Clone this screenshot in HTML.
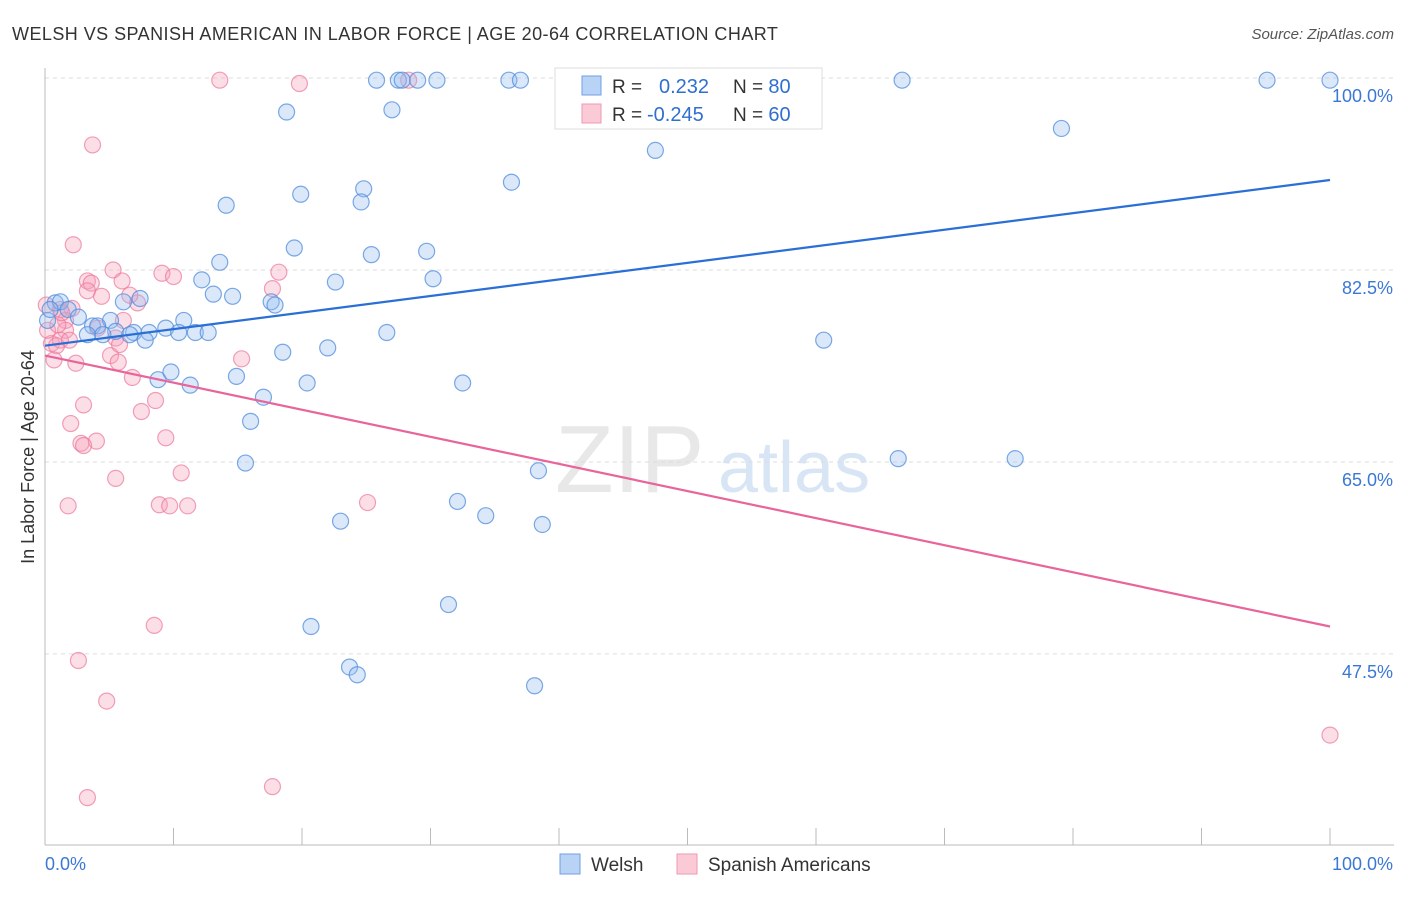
<!DOCTYPE html>
<html><head><meta charset="utf-8">
<style>
body{margin:0;background:#fff;font-family:"Liberation Sans",sans-serif;}
svg text{font-family:"Liberation Sans",sans-serif;}
</style></head>
<body>
<svg id="chart" width="1406" height="892" xmlns="http://www.w3.org/2000/svg">
<text x="12" y="40" font-size="18" fill="#333" letter-spacing="0.45">WELSH VS SPANISH AMERICAN IN LABOR FORCE | AGE 20-64 CORRELATION CHART</text>
<text x="1394" y="39" font-size="15" fill="#555" font-style="italic" text-anchor="end">Source: ZipAtlas.com</text>
<text x="34" y="457" font-size="18" fill="#333" text-anchor="middle" transform="rotate(-90 34 457)">In Labor Force | Age 20-64</text>
<g>
<text x="555" y="492" font-size="96" fill="#e8e8e8" font-family="Liberation Serif,serif">ZIP</text>
<text x="718" y="492" font-size="72" fill="#d8e5f5">atlas</text>
</g>
<g id="grid"></g>
<g id="axes"></g>
<g id="pts"></g>
<g id="trend"></g>
<g>
<rect x="555" y="68" width="267" height="61" fill="#fff" stroke="#ddd"/>
<rect x="582" y="76" width="19" height="19" fill="#b8d3f5" stroke="#6f9fe0"/>
<rect x="582" y="104" width="19" height="19" fill="#fbcad7" stroke="#ef9ab2"/>
<text x="612" y="93" font-size="19" fill="#333">R =</text>
<text x="659" y="93" font-size="20" fill="#2f6fd0">0.232</text>
<text x="733" y="93" font-size="19" fill="#333">N = <tspan fill="#2f6fd0" font-size="20">80</tspan></text>
<text x="612" y="121" font-size="19" fill="#333">R =</text>
<text x="647" y="121" font-size="20" fill="#2f6fd0">-0.245</text>
<text x="733" y="121" font-size="19" fill="#333">N = <tspan fill="#2f6fd0" font-size="20">60</tspan></text>
</g>
<g>
<rect x="560" y="854" width="20" height="20" fill="#b8d3f5" stroke="#6f9fe0"/>
<text x="591" y="871" font-size="19" fill="#333">Welsh</text>
<rect x="677" y="854" width="20" height="20" fill="#fbcad7" stroke="#ef9ab2"/>
<text x="708" y="871" font-size="19" fill="#333">Spanish Americans</text>
</g>
</svg>
<script>
const yTicks=[100,82.5,65,47.5];
const yTickLabels=["100.0%","82.5%","65.0%","47.5%"];
const welshX=[25.8,27.5,27.8,29.0,30.5,36.1,37.0,41.2,45.7,66.7,95.1,100,18.8,27.0,79.1,47.5,36.3,24.8,19.9,14.1,24.6,19.4,29.7,25.4,13.6,12.2,22.6,30.2,13.1,14.6,17.6,17.9,6.1,7.4,0.8,1.2,1.8,2.6,5.1,10.8,3.7,4.1,9.4,6.9,8.1,5.5,3.3,4.5,6.6,10.4,11.7,12.7,26.6,60.6,18.5,22.0,8.8,9.8,11.3,14.9,20.4,32.5,17.0,16.0,15.6,38.4,66.4,75.5,32.1,34.3,23.0,38.7,31.4,20.7,23.7,24.3,38.1,0.2,0.4,7.8];
const welshY=[99.8,99.8,99.8,99.8,99.8,99.8,99.8,99.8,99.8,99.8,99.8,99.8,96.9,97.1,95.4,93.4,90.5,89.9,89.4,88.4,88.7,84.5,84.2,83.9,83.2,81.6,81.4,81.7,80.3,80.1,79.6,79.3,79.6,79.9,79.5,79.6,78.9,78.2,77.9,77.9,77.4,77.4,77.2,76.8,76.8,76.9,76.6,76.6,76.6,76.8,76.8,76.8,76.8,76.1,75.0,75.4,72.5,73.2,72.0,72.8,72.2,72.2,70.9,68.7,64.9,64.2,65.3,65.3,61.4,60.1,59.6,59.3,52.0,50.0,46.3,45.6,44.6,77.9,78.9,76.1];
const spanX=[13.6,19.8,28.3,3.7,2.2,5.3,9.1,10.0,18.2,3.3,3.6,6.0,4.4,3.3,17.7,7.2,0.1,1.2,2.1,1.6,1.6,4.1,6.1,5.5,0.5,1.2,0.9,0.7,2.4,5.1,5.7,15.3,6.8,3.0,7.5,8.6,2.0,9.4,2.8,4.0,3.0,10.6,5.5,1.8,8.9,9.7,11.1,25.1,8.5,2.6,4.8,3.3,17.7,100,0.2,1.0,1.9,5.8,6.6,1.3];
const spanY=[99.8,99.5,99.8,93.9,84.8,82.5,82.2,81.9,82.3,81.5,81.3,81.5,80.1,80.6,80.8,79.5,79.3,78.9,79.0,77.9,77.0,77.2,77.9,76.3,75.8,76.1,75.6,74.3,74.0,74.7,74.1,74.4,72.7,70.2,69.6,70.6,68.5,67.2,66.7,66.9,66.5,64.0,63.5,61.0,61.1,61.0,61.0,61.3,50.1,46.9,43.2,34.4,35.4,40.1,77.0,77.5,76.1,75.7,80.2,78.6];
const welshTrend=[75.6,90.7];
const spanTrend=[74.7,50.0];
const NS="http://www.w3.org/2000/svg";
const xs=v=>45+v*12.85;
const ys=v=>78+(100-v)*10.97;
function mk(tag,attrs,parent){const e=document.createElementNS(NS,tag);for(const k in attrs)e.setAttribute(k,attrs[k]);parent.appendChild(e);return e;}
const grid=document.getElementById('grid'),axes=document.getElementById('axes'),pts=document.getElementById('pts'),trend=document.getElementById('trend');
yTicks.forEach((t,i)=>{
 const l=mk('line',{x1:45,x2:1394,y1:ys(t),y2:ys(t),stroke:'#ddd','stroke-dasharray':'4 4'},grid);
 
 
 const tx=mk('text',{x:1393,y:ys(t)+24,'font-size':18,fill:'#3a78d4','text-anchor':'end'},grid);
 tx.textContent=yTickLabels[i];
 
 
});
const a1=mk('line',{x1:45,x2:45,y1:68,y2:845,stroke:'#bbb'},axes);


const a2=mk('line',{x1:45,x2:1394,y1:845,y2:845,stroke:'#bbb'},axes);


for(let i=0;i<=10;i++){
 const t=mk('line',{x1:xs(i*10),x2:xs(i*10),y1:828,y2:845,stroke:'#bbb'},axes);
 
 
}
const xl0=mk('text',{x:45,y:870,'font-size':18,fill:'#3a78d4'},axes);xl0.textContent='0.0%';


const xl1=mk('text',{x:1393,y:870,'font-size':18,fill:'#3a78d4','text-anchor':'end'},axes);xl1.textContent='100.0%';


spanX.forEach((x,i)=>{
 const c=mk('circle',{cx:xs(x),cy:ys(spanY[i]),r:8,fill:'rgba(246,160,185,0.35)',stroke:'rgba(236,120,155,0.7)','stroke-width':1.2},pts);
 
 
});
welshX.forEach((x,i)=>{
 const c=mk('circle',{cx:xs(x),cy:ys(welshY[i]),r:8,fill:'rgba(150,190,240,0.35)',stroke:'rgba(80,140,220,0.75)','stroke-width':1.2},pts);
 
 
});
const tw=mk('line',{x1:xs(0),y1:ys(welshTrend[0]),x2:xs(100),y2:ys(welshTrend[1]),stroke:'#2a6fd6','stroke-width':2.2},trend);


const tsp=mk('line',{x1:xs(0),y1:ys(spanTrend[0]),x2:xs(100),y2:ys(spanTrend[1]),stroke:'#e8649a','stroke-width':2.2},trend);


</script>
</body></html>
